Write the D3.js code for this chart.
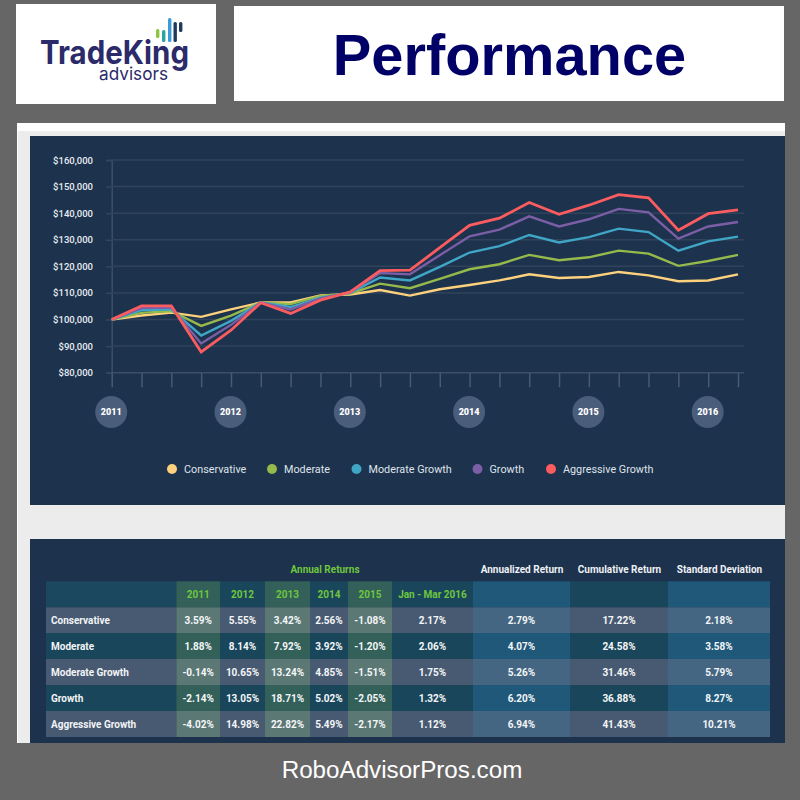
<!DOCTYPE html>
<html>
<head>
<meta charset="utf-8">
<script src="https://cdn.jsdelivr.net/npm/d3@7"></script>
<style>
html, body { margin: 0; padding: 0; background: #666666; }
svg { display: block; }
text { font-family: Roboto, sans-serif; }
</style>
</head>
<body>
<div id="chart"></div>
<script>
var seriesNames = ["Conservative", "Moderate", "Moderate Growth", "Growth", "Aggressive Growth"];
var seriesColors = ["#fdd17e", "#95b94b", "#3fa6c6", "#7b5ea5", "#fb5c5f"];

// portfolio value in $ thousands, one point per quarter from 2011
var conservative = [100, 101.5, 102.6, 101, 103.8, 106.4, 106.4, 109.1, 109.4, 111.1, 109, 111.4, 113, 114.7, 117, 115.6, 116, 117.9, 116.6, 114.4, 114.7, 117];
var moderate = [100, 102.5, 103.2, 97.6, 101.5, 106.4, 105.8, 108.9, 109.8, 113.5, 111.8, 115.3, 118.9, 120.8, 124.3, 122.3, 123.4, 125.9, 124.8, 120.2, 122, 124.3];
var moderateGrowth = [100, 103.5, 103.8, 94, 99.5, 106.4, 104.7, 108.2, 110, 115.8, 114.7, 119.8, 125.2, 127.6, 131.8, 129, 131, 134.2, 132.9, 125.9, 129.4, 131.2];
var growth = [100, 104.3, 104.5, 91, 98, 106.4, 103.8, 107.9, 110.3, 117.5, 117, 124.2, 131.3, 133.8, 138.8, 135, 137.7, 141.6, 140.3, 130.4, 135, 136.7];
var aggressiveGrowth = [100, 105.1, 105.1, 87.8, 96, 106.3, 102.3, 107.3, 110.4, 118.4, 118.6, 127, 135.4, 138.1, 144, 139.6, 143, 147, 145.8, 133.6, 139.8, 141.2];
var allSeries = [conservative, moderate, moderateGrowth, growth, aggressiveGrowth];

var yTicks = [80, 90, 100, 110, 120, 130, 140, 150, 160];
var yearLabels = ["2011", "2012", "2013", "2014", "2015", "2016"];

var tableColumns = ["2011", "2012", "2013", "2014", "2015", "Jan - Mar 2016", "", "", ""];
var topHeaders = ["Annualized Return", "Cumulative Return", "Standard Deviation"];
var returns2011 = ["3.59%", "1.88%", "-0.14%", "-2.14%", "-4.02%"];
var returns2012 = ["5.55%", "8.14%", "10.65%", "13.05%", "14.98%"];
var returns2013 = ["3.42%", "7.92%", "13.24%", "18.71%", "22.82%"];
var returns2014 = ["2.56%", "3.92%", "4.85%", "5.02%", "5.49%"];
var returns2015 = ["-1.08%", "-1.20%", "-1.51%", "-2.05%", "-2.17%"];
var returns2016 = ["2.17%", "2.06%", "1.75%", "1.32%", "1.12%"];
var annualized = ["2.79%", "4.07%", "5.26%", "6.20%", "6.94%"];
var cumulative = ["17.22%", "24.58%", "31.46%", "36.88%", "41.43%"];
var deviation = ["2.18%", "3.58%", "5.79%", "8.27%", "10.21%"];
var tableValues = [returns2011, returns2012, returns2013, returns2014, returns2015, returns2016, annualized, cumulative, deviation];

var svg = d3.select("#chart").append("svg")
	.attr("width", 800)
	.attr("height", 800);

function box(x, y, w, h, fill) {
	return svg.append("rect")
		.attr("x", x).attr("y", y)
		.attr("width", w).attr("height", h)
		.attr("fill", fill);
}

box(0, 0, 800, 800, "#666666");

// header
box(16, 4, 200, 100, "#ffffff");
box(234, 6, 550, 95, "#ffffff");
svg.append("text")
	.attr("x", 509.5).attr("y", 75)
	.attr("text-anchor", "middle")
	.style("font-family", "'Liberation Sans', sans-serif")
	.style("font-weight", "700")
	.style("font-size", "57.8px")
	.attr("fill", "#000066")
	.text("Performance");

// logo
var logoBars = [[156, 29, 38, "#8cc63f"], [162, 30, 42, "#2aa5a5"], [168, 18, 42, "#3d9cd8"], [173.5, 22, 42, "#1d3a5f"], [179, 22, 32, "#1d3a5f"]];
svg.append("g").selectAll("rect")
	.data(logoBars)
	.enter().append("rect")
	.attr("x", function(d) { return d[0]; })
	.attr("y", function(d) { return d[1]; })
	.attr("width", 3.4)
	.attr("height", function(d) { return d[2] - d[1]; })
	.attr("rx", 1.5)
	.attr("fill", function(d) { return d[3]; });
svg.append("text")
	.attr("x", 40).attr("y", 64)
	.attr("textLength", 149)
	.attr("lengthAdjust", "spacingAndGlyphs")
	.style("font-family", "Inter, sans-serif")
	.style("font-weight", "700")
	.style("font-size", "33px")
	.attr("fill", "#2b2a6a")
	.text("TradeKing");
svg.append("text")
	.attr("x", 99).attr("y", 80)
	.attr("textLength", 69)
	.attr("lengthAdjust", "spacingAndGlyphs")
	.style("font-family", "Inter, sans-serif")
	.style("font-size", "17.5px")
	.attr("fill", "#2b2a6a")
	.text("advisors");

// page panels
box(17, 123, 768, 620, "#ffffff");
box(18, 131, 767, 612, "#ececec");
box(30, 136, 755, 369, "#1d324d");
box(30, 539, 755, 204, "#1d324d");

// line chart
var x = d3.scaleLinear().domain([0, conservative.length - 1]).range([111.7, 738]);
var y = d3.scaleLinear().domain([80, 160]).range([372.7, 160]);

var yAxis = d3.axisLeft(y)
	.tickValues(yTicks)
	.tickSize(5.5)
	.tickFormat(function(d) { return "$" + d3.format(",")(d * 1000); });

var yGroup = svg.append("g")
	.attr("transform", "translate(111.7,0)")
	.call(yAxis);
yGroup.select(".domain").attr("stroke", "#3d4e66").attr("stroke-width", 1.5);
yGroup.selectAll(".tick line").attr("stroke", "#35475f").attr("stroke-width", 1.5);
yGroup.selectAll(".tick text")
	.attr("x", -18.7)
	.attr("fill", "#e8edf2")
	.style("font-size", "9.5px")
	.style("font-weight", "500");

svg.append("g").selectAll("line")
	.data(yTicks)
	.enter().append("line")
	.attr("x1", x(0))
	.attr("x2", 744)
	.attr("y1", function(d) { return y(d); })
	.attr("y2", function(d) { return y(d); })
	.attr("stroke", function(d) { return d === 80 ? "#3d4e66" : "#30435b"; })
	.attr("stroke-width", 1.5);

var xAxis = d3.axisBottom(x)
	.tickValues(d3.range(conservative.length))
	.tickSize(14.5)
	.tickSizeOuter(0)
	.tickFormat("");

var xGroup = svg.append("g")
	.attr("transform", "translate(0," + y(80) + ")")
	.call(xAxis);
xGroup.select(".domain").remove();
xGroup.selectAll(".tick line").attr("stroke", "#4a5a72").attr("stroke-width", 1.5);

var line = d3.line()
	.x(function(d, i) { return x(i); })
	.y(function(d) { return y(d); });

svg.append("g").selectAll("path")
	.data(allSeries)
	.enter().append("path")
	.attr("d", line)
	.attr("fill", "none")
	.attr("stroke", function(d, i) { return seriesColors[i]; })
	.attr("stroke-width", function(d, i) { return i === 4 ? 2.8 : 2.4; })
	.attr("stroke-linejoin", "miter");

// year bubbles
var years = svg.append("g").selectAll("g")
	.data(yearLabels)
	.enter().append("g")
	.attr("transform", function(d, i) { return "translate(" + (x(i * 4) - 0.5) + ",412)"; });
years.append("circle")
	.attr("r", 16)
	.attr("fill", "#4a5d7b");
years.append("text")
	.attr("text-anchor", "middle")
	.attr("dy", "0.35em")
	.attr("fill", "#ffffff")
	.style("font-size", "9px")
	.style("font-weight", "900")
	.text(function(d) { return d; });

// legend
var legendDotX = [172, 272, 356.5, 477.5, 551];
var legend = svg.append("g").selectAll("g")
	.data(seriesNames)
	.enter().append("g")
	.attr("transform", function(d, i) { return "translate(" + legendDotX[i] + ",469)"; });
legend.append("circle")
	.attr("r", 5)
	.attr("fill", function(d, i) { return seriesColors[i]; });
legend.append("text")
	.attr("x", 12)
	.attr("dy", "0.35em")
	.attr("fill", "#dfe4ea")
	.style("font-size", "10.8px")
	.text(function(d) { return d; });

// returns table
var colEdges = [176.3, 220, 265, 310, 348, 392, 473, 570, 668, 770];
var rowEdges = [581.3, 607.3, 633, 659, 685, 711, 737];
var labelLeft = 46;

var baseHead = "#1b485f";
var rowFill = ["#485a71", "#1a465b"];
var greenFill = ["#5b7875", "#336058"];
var blueFill = ["#446682", "#20587a"];

function cellFill(col, row) {
	// row -1 is the header row
	var band = row < 0 ? 1 : row % 2;
	if(col === 0 || col === 2 || col === 4) {
		return greenFill[band];
	}
	if(col === 6 || col === 8) {
		return blueFill[band];
	}
	return rowFill[band];
}

box(labelLeft, rowEdges[0], colEdges[0] - labelLeft, rowEdges[1] - rowEdges[0], baseHead);
seriesNames.forEach(function(name, r) {
	box(labelLeft, rowEdges[r + 1], colEdges[0] - labelLeft, rowEdges[r + 2] - rowEdges[r + 1], rowFill[r % 2]);
	svg.append("text")
		.attr("x", 51)
		.attr("y", (rowEdges[r + 1] + rowEdges[r + 2]) / 2)
		.attr("dy", "0.35em")
		.attr("fill", "#f2f4f6")
		.style("font-size", "10px")
		.style("font-weight", "700")
		.text(name);
});

tableColumns.forEach(function(label, c) {
	var left = colEdges[c], right = colEdges[c + 1], mid = (left + right) / 2;
	box(left, rowEdges[0], right - left, rowEdges[1] - rowEdges[0], cellFill(c, -1));
	svg.append("text")
		.attr("x", mid)
		.attr("y", (rowEdges[0] + rowEdges[1]) / 2)
		.attr("dy", "0.35em")
		.attr("text-anchor", "middle")
		.attr("fill", "#6fc63f")
		.style("font-size", "10px")
		.style("font-weight", "700")
		.text(label);
	tableValues[c].forEach(function(v, r) {
		box(left, rowEdges[r + 1], right - left, rowEdges[r + 2] - rowEdges[r + 1], cellFill(c, r));
		svg.append("text")
			.attr("x", mid)
			.attr("y", (rowEdges[r + 1] + rowEdges[r + 2]) / 2)
			.attr("dy", "0.35em")
			.attr("text-anchor", "middle")
			.attr("fill", "#f4f6f8")
			.style("font-size", "10px")
			.style("font-weight", "700")
			.text(v);
	});
});

svg.append("text")
	.attr("x", 325).attr("y", 572.5)
	.attr("text-anchor", "middle")
	.attr("fill", "#6fc63f")
	.style("font-size", "10px")
	.style("font-weight", "700")
	.text("Annual Returns");

topHeaders.forEach(function(label, i) {
	svg.append("text")
		.attr("x", (colEdges[6 + i] + colEdges[7 + i]) / 2 + 0.5)
		.attr("y", 572.5)
		.attr("text-anchor", "middle")
		.attr("fill", "#eef1f4")
		.style("font-size", "10px")
		.style("font-weight", "700")
		.text(label);
});

// footer
svg.append("text")
	.attr("x", 402).attr("y", 778)
	.attr("text-anchor", "middle")
	.style("font-family", "'Liberation Sans', sans-serif")
	.style("font-size", "24.2px")
	.attr("fill", "#ffffff")
	.text("RoboAdvisorPros.com");
</script>
</body>
</html>
